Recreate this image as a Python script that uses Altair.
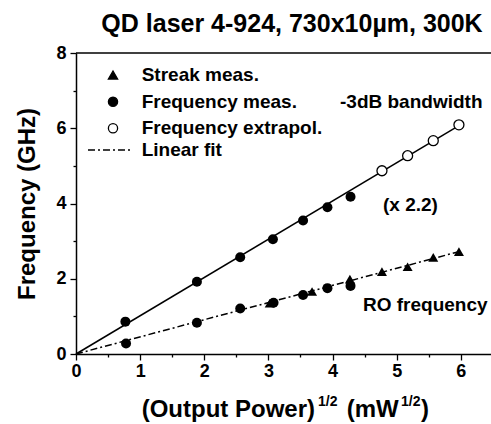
import altair as alt
import pandas as pd

# -3dB bandwidth: measured points and extrapolated points
bw_meas_x = [0.77, 1.885, 2.56, 3.07, 3.54, 3.92, 4.28]
bw_meas_y = [0.86, 1.92, 2.57, 3.05, 3.55, 3.90, 4.18]
bw_extra_x = [4.77, 5.17, 5.57, 5.97]
bw_extra_y = [4.87, 5.27, 5.67, 6.09]

# RO frequency: frequency-domain and streak-camera measurements
ro_freq_x = [0.78, 1.885, 2.56, 3.08, 3.54, 3.92, 4.28]
ro_freq_y = [0.28, 0.83, 1.21, 1.36, 1.57, 1.75, 1.81]
streak_x = [3.02, 3.68, 4.27, 4.77, 5.17, 5.57, 5.97]
streak_y = [1.35, 1.66, 1.99, 2.19, 2.32, 2.57, 2.72]

# linear fits through the origin
fit_x = [0.0, 5.97]
bw_fit_y = [0.0, 6.07]
ro_fit_y = [0.0, 2.72]

x_ticks = [i * 0.5 for i in range(13)]
y_ticks = list(range(9))

W, H = 415, 301
FONT = "Liberation Sans"

xs = alt.Scale(domain=[0, 6.47], nice=False, zero=True)
ys = alt.Scale(domain=[0, 8], nice=False, zero=True)

x_axis = alt.Axis(
    values=x_ticks,
    labelExpr="datum.value % 1 == 0 ? format(datum.value, 'd') : ''",
    tickSize={"condition": {"test": "datum.value % 1 == 0", "value": 6}, "value": 3},
    labelFontSize=18, labelFontWeight="bold", labelFont=FONT, labelColor="black",
    labelPadding=2, labelOverlap=False, labelFlush=False,
    domainColor="black", domainWidth=1.5, tickColor="black", tickWidth=1.3,
    grid=False, title=None,
)
y_axis = alt.Axis(
    values=y_ticks,
    labelExpr="datum.value % 2 == 0 ? format(datum.value, 'd') : ''",
    tickSize={"condition": {"test": "datum.value % 2 == 0", "value": 6}, "value": 3},
    labelFontSize=18, labelFontWeight="bold", labelFont=FONT, labelColor="black",
    labelPadding=4, labelOverlap=False, labelFlush=False,
    domainColor="black", domainWidth=1.5, tickColor="black", tickWidth=1.3,
    grid=False,
    title="Frequency (GHz)", titleFontSize=24, titleFontWeight="bold",
    titleFont=FONT, titleColor="black", titlePadding=16,
)


def xy():
    return dict(
        x=alt.X("x:Q", scale=xs, axis=x_axis),
        y=alt.Y("y:Q", scale=ys, axis=y_axis),
    )


bw_fit = pd.DataFrame({"x": fit_x, "y": bw_fit_y})
ro_fit = pd.DataFrame({"x": fit_x, "y": ro_fit_y})
bw_meas = pd.DataFrame({"x": bw_meas_x, "y": bw_meas_y})
bw_extra = pd.DataFrame({"x": bw_extra_x, "y": bw_extra_y})
ro_freq = pd.DataFrame({"x": ro_freq_x, "y": ro_freq_y})
streak = pd.DataFrame({"x": streak_x, "y": streak_y})

DASHDOT = [7, 3, 2, 3]
MSIZE = 100

line_bw = alt.Chart(bw_fit).mark_line(color="black", strokeWidth=1.5).encode(**xy())
line_ro = alt.Chart(ro_fit).mark_line(color="black", strokeWidth=1.5, strokeDash=DASHDOT).encode(**xy())

pts_bw = alt.Chart(bw_meas).mark_point(shape="circle", filled=True, color="black", size=MSIZE, opacity=1).encode(**xy())
pts_ex = alt.Chart(bw_extra).mark_point(shape="circle", filled=True, fill="white", stroke="black",
                                         strokeWidth=1.3, size=MSIZE, opacity=1).encode(**xy())
pts_ro = alt.Chart(ro_freq).mark_point(shape="circle", filled=True, color="black", size=MSIZE, opacity=1).encode(**xy())
pts_st = alt.Chart(streak).mark_point(shape="triangle-up", filled=True, color="black", size=MSIZE, opacity=1).encode(**xy())

anchor = pd.DataFrame({"k": [0]})


def label(text, px, py, size=19, align="left", baseline="middle"):
    return alt.Chart(anchor).mark_text(
        text=text, align=align, baseline=baseline, font=FONT, fontSize=size,
        fontWeight="bold", color="black",
    ).encode(x=alt.value(px), y=alt.value(py))


def marker(px, py, shape, fill):
    return alt.Chart(anchor).mark_point(
        shape=shape, filled=True, fill=fill, stroke="black", strokeWidth=1.3,
        size=85, opacity=1,
    ).encode(x=alt.value(px), y=alt.value(py))


legend = [
    marker(37, 22, "triangle-up", "black"),
    marker(37, 48.7, "circle", "black"),
    marker(37, 75.3, "circle", "white"),
    alt.Chart(anchor).mark_rule(color="black", strokeWidth=1.5, strokeDash=DASHDOT).encode(
        x=alt.value(12), x2=alt.value(57), y=alt.value(97)),
    label("Streak meas.", 65.7, 22),
    label("Frequency meas.", 65.7, 48.7),
    label("Frequency extrapol.", 65.7, 75.3),
    label("Linear fit", 65.7, 97),
]

notes = [
    label("-3dB bandwidth", 264, 48.7),
    label("(x 2.2)", 307, 152),
    label("RO frequency", 287, 252),
]

# chart title and x-axis title with superscripts
titles = [
    label("QD laser 4-924, 730x10µm, 300K", 216, -21, size=25, align="center", baseline="alphabetic"),
    label("(Output Power)", 65.7, 364, size=24, baseline="alphabetic"),
    label("1/2", 242, 353, size=14, baseline="alphabetic"),
    label("(mW", 270.7, 364, size=24, baseline="alphabetic"),
    label("1/2", 325, 353, size=14, baseline="alphabetic"),
    label(")", 345, 364, size=24, baseline="alphabetic"),
]

top_border = alt.Chart(anchor).mark_rule(color="black", strokeWidth=1.5).encode(
    x=alt.value(0), x2=alt.value(W), y=alt.value(0))

chart = alt.layer(
    line_bw, line_ro, pts_bw, pts_ex, pts_ro, pts_st, top_border,
    *legend, *notes, *titles,
).properties(
    width=W, height=H,
    autosize=alt.AutoSizeParams(type="none"),
    padding={"left": 76, "top": 53, "right": 0, "bottom": 70},
    background="white",
).configure_view(stroke=None)

chart.save("out.html", embed_options={"renderer": "svg", "actions": False})
